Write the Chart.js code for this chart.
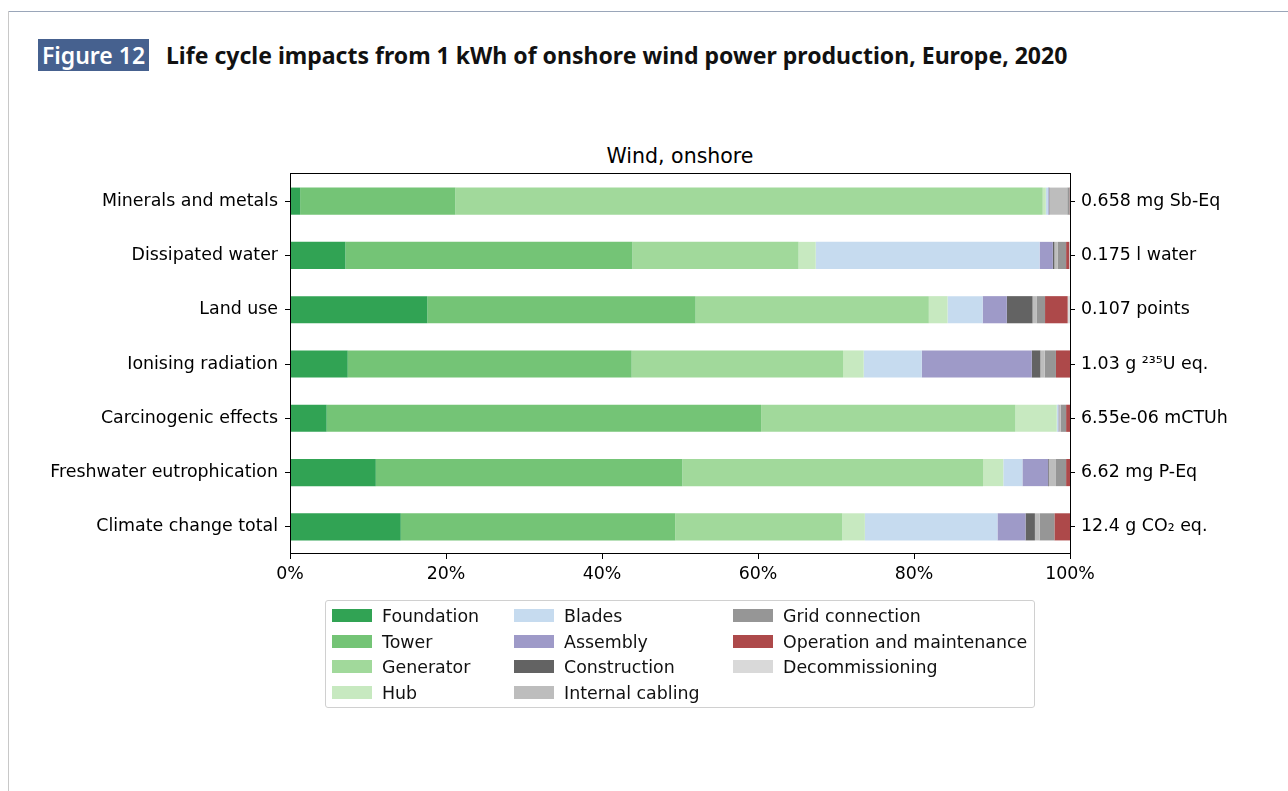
<!DOCTYPE html>
<html>
<head>
<meta charset="utf-8">
<script src="https://cdn.jsdelivr.net/npm/chart.js@4"></script>
<style>
  body { margin: 0; background: #fff; width: 1288px; height: 791px; position: relative; overflow: hidden; font-family: 'DejaVu Sans', sans-serif; }
  #frameTop { position: absolute; left: 8px; top: 11px; width: 1280px; height: 1px; background: #9aa6b9; }
  #frameLeft { position: absolute; left: 8px; top: 11px; width: 1px; height: 780px; background: #c8c8c8; }
  #figTag { position: absolute; left: 38px; top: 39px; width: 111px; height: 32px; background: #46618f; color: #fff;
            font-family: 'Noto Sans', sans-serif; font-weight: 600; font-size: 23px; line-height: 32px; text-align: center; }
  #figTitle { position: absolute; left: 166px; top: 39px; height: 32px; line-height: 32px; white-space: nowrap;
              font-family: 'Noto Sans', sans-serif; font-weight: 700; font-size: 24px; color: #111; transform-origin: 0 50%; }
  #plotTitle { position: absolute; left: 480px; width: 400px; top: 143px; text-align: center; font-size: 20.5px; line-height: 26px; color: #000; }
  #chartWrap { position: absolute; left: 0; top: 0; }
  #legend { position: absolute; left: 325px; top: 600px; width: 708px; height: 106px; border: 1px solid #d0d0d0; border-radius: 3px; }
  .item { position: absolute; height: 20px; line-height: 20px; font-size: 17.4px; color: #111; white-space: nowrap; }
  .sw { position: absolute; left: 0; top: 3px; width: 40px; height: 13px; }
  .item span.t { position: absolute; left: 50px; top: 0; }
</style>
</head>
<body>
<div id="frameTop"></div>
<div id="frameLeft"></div>
<div id="figTag">Figure 12</div>
<div id="figTitle">Life cycle impacts from 1 kWh of onshore wind power production, Europe, 2020</div>
<div id="plotTitle">Wind, onshore</div>
<div id="chartWrap"><canvas id="myChart" width="1288" height="640"></canvas></div>
<div id="legend"></div>
<script>
// impact categories (top to bottom) and their totals shown on the right
const categories = ['Minerals and metals', 'Dissipated water', 'Land use', 'Ionising radiation',
                    'Carcinogenic effects', 'Freshwater eutrophication', 'Climate change total'];
const totals = ['0.658 mg Sb-Eq', '0.175 l water', '0.107 points', '1.03 g ²³⁵U eq.',
                '6.55e-06 mCTUh', '6.62 mg P-Eq', '12.4 g CO₂ eq.'];

// share of each life cycle stage, % (same order as categories)
const foundation      = [1.3, 7.1, 17.6, 7.4, 4.7, 11.0, 14.2];
const tower           = [19.9, 36.8, 34.4, 36.4, 55.7, 39.3, 35.2];
const generator       = [75.3, 21.3, 29.9, 27.1, 32.6, 38.55, 21.4];
const hub             = [0.4, 2.2, 2.4, 2.65, 5.3, 2.6, 2.9];
const blades          = [0.3, 28.7, 4.5, 7.45, 0.2, 2.45, 17.0];
const assembly        = [0.1, 1.7, 3.1, 14.1, 0.05, 3.3, 3.6];
const construction    = [0.05, 0.2, 3.3, 1.1, 0.05, 0.1, 1.2];
const internalCabling = [2.3, 0.4, 0.5, 0.55, 0.2, 0.9, 0.6];
const gridConnection  = [0.3, 1.1, 1.1, 1.45, 0.7, 1.3, 1.9];
const operation       = [0.05, 0.4, 2.9, 1.8, 0.5, 0.5, 2.0];
const decommissioning = [0, 0.1, 0.3, 0, 0, 0, 0];

const xTicks = [0, 20, 40, 60, 80, 100];

const series = [
  ['Foundation', foundation, '#31a354'],
  ['Tower', tower, '#74c476'],
  ['Generator', generator, '#a1d99b'],
  ['Hub', hub, '#c7e9c0'],
  ['Blades', blades, '#c6dbef'],
  ['Assembly', assembly, '#9e9ac8'],
  ['Construction', construction, '#636363'],
  ['Internal cabling', internalCabling, '#bdbdbd'],
  ['Grid connection', gridConnection, '#969696'],
  ['Operation and maintenance', operation, '#ad494a'],
  ['Decommissioning', decommissioning, '#d9d9d9']
];

// squeeze the headline to the width used in the report
const ft = document.getElementById('figTitle');
ft.style.transform = 'scaleX(' + (901 / ft.offsetWidth) + ')';

const frame = {
  id: 'frame',
  afterDatasetsDraw(chart) {
    const a = chart.chartArea, c = chart.ctx;
    c.save();
    c.strokeStyle = '#000';
    c.lineWidth = 1;
    c.strokeRect(Math.round(a.left) + 0.5, Math.round(a.top) - 0.5, Math.round(a.right - a.left), Math.round(a.bottom - a.top));
    c.restore();
  }
};

const tickFont = { family: 'DejaVu Sans', size: 17.4 };
const graph = document.getElementById('myChart');

var barChart = new Chart(graph, {
  type: 'bar',
  data: {
    labels: categories,
    datasets: series.map(s => ({
      label: s[0],
      data: s[1],
      backgroundColor: s[2],
      borderWidth: 0,
      categoryPercentage: 1,
      barPercentage: 0.5
    }))
  },
  options: {
    indexAxis: 'y',
    responsive: false,
    animation: false,
    layout: { padding: { top: 174, left: 0, right: 0, bottom: 0 } },
    plugins: {
      legend: { display: false },
      tooltip: { enabled: false },
      title: { display: false }
    },
    scales: {
      x: {
        stacked: true,
        min: 0,
        max: 100,
        afterBuildTicks: s => { s.ticks = xTicks.map(v => ({ value: v })); },
        afterFit: s => { s.height = 86; },
        ticks: { color: '#000', font: tickFont, padding: 5, callback: v => v + '%', maxRotation: 0 },
        grid: { drawOnChartArea: false, drawTicks: true, tickLength: 5, color: '#000' },
        border: { display: false }
      },
      y: {
        stacked: true,
        offset: true,
        afterFit: s => { s.width = 290; },
        ticks: { color: '#000', font: tickFont, padding: 7 },
        grid: { drawOnChartArea: false, drawTicks: true, tickLength: 5, color: '#000', offset: false },
        border: { display: false }
      },
      y2: {
        type: 'category',
        position: 'right',
        labels: totals,
        offset: true,
        afterFit: s => { s.width = 218; },
        ticks: { color: '#000', font: tickFont, padding: 6 },
        grid: { drawOnChartArea: false, drawTicks: true, tickLength: 5, color: '#000', offset: false },
        border: { display: false }
      }
    }
  },
  plugins: [frame]
});

// legend in three columns, filled top to bottom like the original
const lg = document.getElementById('legend');
const colX = [6, 188, 407];
series.forEach((s, i) => {
  const col = Math.floor(i / 4), row = i % 4;
  const d = document.createElement('div');
  d.className = 'item';
  d.style.left = colX[col] + 'px';
  d.style.top = (5 + row * 25.7) + 'px';
  d.innerHTML = '<div class="sw" style="background:' + s[2] + '"></div><span class="t"></span>';
  d.querySelector('.t').textContent = s[0];
  lg.appendChild(d);
});
</script>
</body>
</html>
